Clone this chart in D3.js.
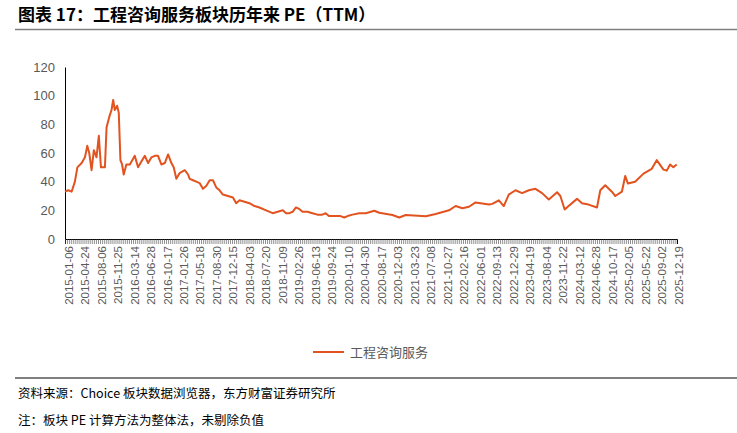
<!DOCTYPE html>
<html><head><meta charset="utf-8">
<script src="https://cdn.jsdelivr.net/npm/d3@7"></script>
<style>body{margin:0;background:#fff}</style>
</head><body><div id="chart"></div>
<script>
// Tick labels (evenly spaced trading-day positions)
const dateLabels = ["2015-01-06","2015-04-24","2015-08-06","2015-11-25","2016-03-14","2016-06-28","2016-10-17","2017-01-26","2017-05-18","2017-08-30","2017-12-15","2018-04-03","2018-07-20","2018-11-09","2019-02-26","2019-06-13","2019-09-24","2020-01-10","2020-04-30","2020-08-17","2020-12-03","2021-03-23","2021-07-08","2021-10-27","2022-02-16","2022-06-01","2022-09-13","2022-12-29","2023-04-19","2023-08-04","2023-11-22","2024-03-12","2024-06-28","2024-10-17","2025-02-05","2025-05-22","2025-09-02","2025-12-19"];
const yTicks = [0, 20, 40, 60, 80, 100, 120];

// Series: position in label units, PE value
const pos = [0,0.2,0.4,0.6,0.75,1.01,1.21,1.35,1.47,1.61,1.75,1.91,2.05,2.18,2.32,2.42,2.52,2.68,2.82,2.92,3.02,3.16,3.26,3.36,3.46,3.56,3.72,3.93,4.13,4.23,4.43,4.63,4.84,5.04,5.24,5.44,5.64,5.84,6.05,6.25,6.45,6.59,6.75,6.95,7.26,7.46,7.56,7.76,7.96,8.16,8.36,8.56,8.77,8.97,9.17,9.37,9.57,9.88,10.18,10.38,10.58,10.88,11.18,11.49,11.79,12.19,12.59,12.89,13.2,13.4,13.6,13.8,14.0,14.2,14.4,14.7,15.0,15.3,15.6,15.8,16.0,16.4,16.7,16.93,17.13,17.43,17.84,18.24,18.75,19.05,19.85,20.26,20.66,21.87,22.47,23.28,23.68,24.09,24.49,24.89,25.7,25.9,26.3,26.6,26.9,27.31,27.71,28.12,28.52,28.92,29.33,29.83,30.03,30.29,30.53,31.04,31.34,31.74,32.25,32.45,32.75,33.15,33.36,33.76,33.96,34.12,34.56,35.07,35.57,35.87,36.28,36.48,36.68,36.88,37.08];
const pe = [33,34,33,40,50,53,57,65,60,48,62,57,72,50,50,50,78,85,90,97,90,93,88,55,52,45,52,52,56,58,50,54,58,53,57,58,58,52,53,59,53,50,42,46,48,45,42,41,40,39,35,37,41,41,36,34,31,30,29,25,27,26,25,23,22,20,18,19,20,18,18,19,22,21,19,19,18,17,17,18,16,16,16,15,16,17,18,18,19.7,18.3,16.7,15,16.7,15.9,17.5,20,23,21.5,22.5,25.5,24,24.5,27,23,31,34,32,34,35,32,27.6,32.6,30,20.6,23,28,25,24,22,34,37.5,33,30,33,44,38.7,40,45.6,49,55,48.4,47.7,52,50,52];

const W = 737, H = 433;
const m = {left: 65, right: 60, top: 67, bottom: 194};
const svg = d3.select("#chart").append("svg").attr("width", W).attr("height", H)
  .style("font-family", "Arial, 'Liberation Sans', sans-serif");

const x = d3.scaleLinear().domain([0, 37.1]).range([m.left, 677]);
const y = d3.scaleLinear().domain([0, 120]).range([239, 67]);

// Title
svg.append("text").attr("x", 18).attr("y", 21)
  .attr("font-size", 17).attr("font-weight", 700).attr("fill", "#000")
  .style("font-family", "'Noto Sans CJK SC', sans-serif")
  .text("图表 17：工程咨询服务板块历年来 PE（TTM）");
svg.append("line").attr("x1", 15).attr("x2", W).attr("y1", 29.5).attr("y2", 29.5)
  .attr("stroke", "#7f7f7f").attr("stroke-width", 1.5);

// Y axis
const yAxis = svg.append("g").attr("transform", `translate(${m.left},0)`)
  .call(d3.axisLeft(y).tickValues(yTicks).tickSize(0).tickPadding(10));
yAxis.select(".domain").attr("stroke", "#000");
yAxis.selectAll("text").attr("font-size", 13).attr("fill", "#595959");

// X axis with dense minor ticks
const minor = d3.range(0, 37.1, 0.125);
svg.append("g").attr("transform", `translate(0,239)`)
  .call(d3.axisBottom(x).tickValues(minor).tickSize(5).tickFormat(""))
  .call(g => g.selectAll("line").attr("stroke", "#444").attr("stroke-width", 0.6))
  .call(g => g.select(".domain").attr("stroke", "#000"));
const xAxis = svg.append("g").attr("transform", `translate(0,239)`)
  .call(d3.axisBottom(x).tickValues(d3.range(dateLabels.length)).tickSize(0).tickFormat(i => dateLabels[i]));
xAxis.select(".domain").remove();
xAxis.selectAll("text").attr("font-size", 11.5).attr("fill", "#595959")
  .attr("text-anchor", "end").attr("dy", "0.35em")
  .attr("transform", "translate(0,7) rotate(-90)");

// Line
const data = pos.map((p, i) => ({p, v: pe[i]}));
svg.append("path").datum(data)
  .attr("fill", "none").attr("stroke", "#e2531f").attr("stroke-width", 2)
  .attr("stroke-linejoin", "round")
  .attr("d", d3.line().x(d => x(d.p)).y(d => y(d.v)));

// Legend
svg.append("line").attr("x1", 313).attr("x2", 344).attr("y1", 352).attr("y2", 352)
  .attr("stroke", "#e2531f").attr("stroke-width", 2);
svg.append("text").attr("x", 350).attr("y", 357).attr("font-size", 13).attr("fill", "#595959")
  .style("font-family", "'Noto Sans CJK SC', sans-serif").text("工程咨询服务");

// Footer
svg.append("line").attr("x1", 15).attr("x2", W).attr("y1", 378).attr("y2", 378)
  .attr("stroke", "#000").attr("stroke-width", 1);
svg.append("text").attr("x", 18).attr("y", 398).attr("font-size", 12.5).attr("fill", "#000")
  .style("font-family", "'Noto Sans CJK SC', sans-serif")
  .text("资料来源：Choice 板块数据浏览器，东方财富证券研究所");
svg.append("text").attr("x", 18).attr("y", 425).attr("font-size", 12.5).attr("fill", "#000")
  .style("font-family", "'Noto Sans CJK SC', sans-serif")
  .text("注：板块 PE 计算方法为整体法，未剔除负值");
</script></body></html>
